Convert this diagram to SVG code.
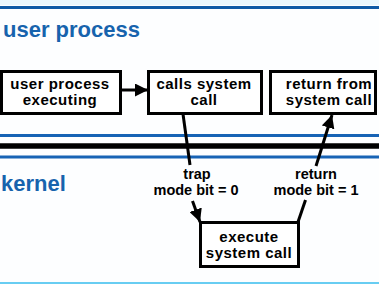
<svg xmlns="http://www.w3.org/2000/svg" width="379" height="284" viewBox="0 0 379 284">
  <defs>
    <marker id="head" viewBox="0 0 13 13" refX="13" refY="6.5" markerWidth="13" markerHeight="13" markerUnits="userSpaceOnUse" orient="auto">
      <path d="M0,0 L13,6.5 L0,13 Z" fill="#000"/>
    </marker>
    <style>
      .box { fill: #fff; stroke: #000; stroke-width: 3; }
      .label { font-family: "Liberation Sans", Arial, sans-serif; font-weight: bold; font-size: 15px; letter-spacing: 0.5px; fill: #000; text-anchor: middle; }
      .note { font-family: "Liberation Sans", Arial, sans-serif; font-weight: bold; font-size: 14.5px; fill: #000; text-anchor: middle; }
      .zone { font-family: "Liberation Sans", Arial, sans-serif; font-weight: bold; font-size: 22px; fill: #1763ad; }
      .wire { stroke: #000; stroke-width: 3; fill: none; }
    </style>
  </defs>

  <!-- background and rules -->
  <rect width="379" height="284" fill="#fdfeff"/>
  <rect x="0" y="0" width="379" height="5" fill="#eaf7fd"/>
  <line x1="0" y1="7.5" x2="379" y2="7.5" stroke="#0f5aa6" stroke-width="3"/>
  <line x1="0" y1="135.5" x2="379" y2="135.5" stroke="#1763b5" stroke-width="3"/>
  <line x1="0" y1="146" x2="379" y2="146" stroke="#000" stroke-width="5.5"/>
  <line x1="0" y1="157" x2="379" y2="157" stroke="#1763b5" stroke-width="3"/>
  <line x1="0" y1="283" x2="379" y2="283" stroke="#68cdf2" stroke-width="2"/>

  <!-- zone titles -->
  <text class="zone" x="3" y="37">user process</text>
  <text class="zone" x="1" y="191">kernel</text>

  <!-- nodes -->
  <g id="user-process-executing">
    <rect class="box" x="1.5" y="71.5" width="119" height="42"/>
    <text class="label" x="60" y="89">user process</text>
    <text class="label" x="60" y="105">executing</text>
  </g>
  <g id="calls-system-call">
    <rect class="box" x="148.5" y="71.5" width="113" height="42"/>
    <text class="label" x="204" y="89">calls system</text>
    <text class="label" x="204" y="105">call</text>
  </g>
  <g id="return-from-system-call">
    <rect class="box" x="270.5" y="71.5" width="105" height="42"/>
    <text class="label" x="329" y="89">return from</text>
    <text class="label" x="329" y="105">system call</text>
  </g>
  <g id="execute-system-call">
    <rect class="box" x="200.5" y="222.5" width="98" height="44"/>
    <text class="label" x="249" y="242">execute</text>
    <text class="label" x="249" y="258">system call</text>
  </g>

  <!-- connectors -->
  <g id="connectors">
    <line class="wire" x1="121" y1="90" x2="148" y2="90" marker-end="url(#head)"/>
    <line class="wire" x1="183" y1="114" x2="190" y2="165"/>
    <line class="wire" x1="192.5" y1="201" x2="200" y2="222" marker-end="url(#head)"/>
    <text class="note" x="197" y="179">trap</text>
    <text class="note" x="196" y="195">mode bit = 0</text>
    <line class="wire" x1="298" y1="222" x2="305.5" y2="200"/>
    <line class="wire" x1="316" y1="166" x2="332" y2="115" marker-end="url(#head)"/>
    <text class="note" x="316" y="179">return</text>
    <text class="note" x="316" y="195">mode bit = 1</text>
  </g>
</svg>
